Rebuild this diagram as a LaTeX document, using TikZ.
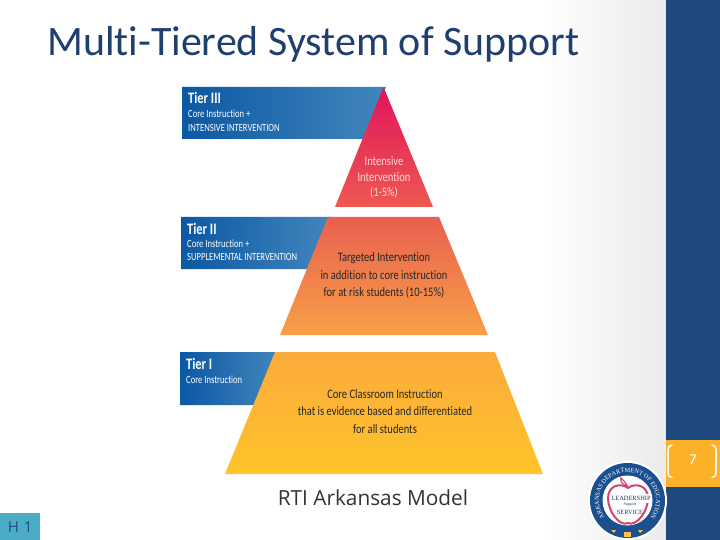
\documentclass[tikz,border=0pt]{standalone}
\usepackage{fontspec}
\setmainfont[Ligatures=NoCommon]{Carlito}
\newfontfamily\narrowf[FakeStretch=.78,Ligatures=NoCommon]{Carlito}
\newfontfamily\pyrf[FakeStretch=.81,Ligatures=NoCommon]{Carlito}
\newfontfamily\capf{Open Sans}
\newfontfamily\logof{Liberation Serif}
\usetikzlibrary{decorations.text}
\definecolor{barblue}{HTML}{1F497D}
\definecolor{baror}{HTML}{FBB128}
\definecolor{hbox}{HTML}{4BACC6}
\definecolor{ringblue}{HTML}{1B4F8F}
\definecolor{titleblue}{HTML}{1F3F6E}
\definecolor{applepink}{HTML}{D0476B}
\definecolor{bannerleft}{RGB}{11,88,163}
\definecolor{bannerright}{RGB}{66,134,188}
\tikzset{
  x=1pt,y=-1pt,
  tiertitle/.style={anchor=west,inner sep=0pt,text=white,font=\narrowf\bfseries\fontsize{16}{16}\selectfont},
  tiersub/.style={anchor=west,inner sep=0pt,text=white,font=\narrowf\fontsize{11}{11}\selectfont},
  pyrtext/.style={align=center,inner sep=0pt,font=\pyrf\fontsize{13}{17.3}\selectfont},
  bannershade/.style={left color=bannerleft,right color=bannerright},
}
\begin{document}
\begin{tikzpicture}
\useasboundingbox (0,0) rectangle (720,540);
\fill[white] (0,0) rectangle (720,540);
\shade[left color=white,right color=black!8] (540,0) rectangle (666,540);
% right bar
\fill[barblue] (666,0) rectangle (720,540);
\fill[baror] (666,440) rectangle (720,487);
\draw[white!90!baror,line width=1.6pt,line cap=round] (672,445) .. controls (669,445.5) and (668,447) .. (668,450) -- (668,472) .. controls (668,476) and (669,477) .. (672,477.5);
\draw[white!90!baror,line width=1.6pt,line cap=round] (712,445) .. controls (715,445.5) and (716,447) .. (716,450) -- (716,472) .. controls (716,476) and (715,477) .. (712,477.5);
\node[inner sep=0pt,text=white,font=\fontsize{15}{15}\selectfont] (pg) at (693,460) {7};
% title
\node[anchor=west,inner sep=0pt,text=titleblue,font=\fontsize{41.9}{42}\selectfont] (title) at (47,44.5) {Multi-Tiered System of Support};
% banners (their slanted ends run under the pyramid)
\shade[bannershade] (182,87) -- (386,87) -- (366,139) -- (182,139) -- cycle;
\shade[bannershade] (181,217) -- (332,217) -- (310,269) -- (181,269) -- cycle;
\shade[bannershade] (180,352) -- (279,352) -- (257,405) -- (180,405) -- cycle;
% pyramid
\shade[top color={rgb,255:red,224;green,20;blue,92},bottom color={rgb,255:red,238;green,88;blue,80}] (383.5,87) -- (433,207) -- (335,207) -- cycle;
\shade[top color={rgb,255:red,232;green,96;blue,80},bottom color={rgb,255:red,248;green,160;blue,70}] (328,217) -- (439,217) -- (488,335) -- (280,335) -- cycle;
\shade[top color={rgb,255:red,251;green,170;blue,60},bottom color={rgb,255:red,254;green,196;blue,42}] (275,352) -- (495,352) -- (543,474) -- (225,474) -- cycle;
% banner text
\node[tiertitle] (t3) at (188,98) {Tier III};
\node[tiersub] (t3a) at (188,114) {Core Instruction +};
\node[tiersub] (t3b) at (188,127.5) {INTENSIVE INTERVENTION};
\node[tiertitle] (t2) at (187,229) {Tier II};
\node[tiersub] (t2a) at (187,244) {Core Instruction +};
\node[tiersub] (t2b) at (187,257) {SUPPLEMENTAL INTERVENTION};
\node[tiertitle] (t1) at (186,364) {Tier I};
\node[tiersub] (t1a) at (186,380) {Core Instruction};
% pyramid text
\node[pyrtext,text=white!85!red,font=\pyrf\fontsize{13}{15.5}\selectfont] (p3) at (384,177.5) {Intensive\\Intervention\\(1-5\%)};
\node[pyrtext,text=black!85] (p2) at (384,275.5) {Targeted Intervention\\in addition to core instruction\\for at risk students (10-15\%)};
\node[pyrtext,text=black!85] (p1) at (385,411.5) {Core Classroom Instruction\\that is evidence based and differentiated\\for all students};
% caption
\node[inner sep=0pt,text=black!80,font=\capf\fontsize{20.8}{21}\selectfont] (cap) at (373,498) {RTI Arkansas Model};
% H1
\node[anchor=north west,fill=hbox,minimum width=40pt,minimum height=27pt,inner sep=0pt,text=ringblue,font=\capf\fontsize{15}{15}\selectfont] (h1) at (0,513) {H\,\,1};
% logo
\fill[white] (627.5,500.5) circle[radius=39.5pt];
\fill[ringblue] (627.5,500.5) circle[radius=37.5pt];
\fill[white] (627.5,500.5) circle[radius=25pt];
\path[decorate,decoration={text along path,text align=center,text color=white,
  text={|\logof\fontsize{6.3}{7}\selectfont|ARKANSAS DEPARTMENT OF EDUCATION}}]
  (611.15,523.85) arc[start angle=235,end angle=-55,radius=28.5pt];
\draw[applepink,line width=2pt,fill=white] (628,488) .. controls (620,482) and (608,486) .. (608,498) .. controls (608,512) and (620,527) .. (628,523) .. controls (636,527) and (648,512) .. (648,498) .. controls (648,486) and (636,482) .. (628,488) -- cycle;
\draw[applepink,line width=1.1pt] (628,488) .. controls (627,484) and (624,481) .. (621,478) .. controls (620,482) and (623,485) .. (628,486);
\fill[white] (611,494) rectangle (651,503);
\node[inner sep=0pt,text=ringblue!70!black,font=\logof\fontsize{6.4}{6.4}\selectfont] (lg1) at (631,498) {LEADERSHIP};
\node[inner sep=0pt,text=ringblue!70!black,font=\logof\fontsize{4}{4}\selectfont] (lg2) at (630,505) {Support};
\node[inner sep=0pt,text=ringblue!70!black,font=\logof\fontsize{6.4}{6.4}\selectfont] (lg3) at (630,512) {SERVICE};
\fill[baror!80!white] (611,530) -- (616,530) -- (614,533) -- cycle;
\fill[baror!80!white] (624,532) rectangle (631,537);
\fill[baror!80!white] (638,530) -- (643,530) -- (640,533) -- cycle;
\end{tikzpicture}
\end{document}
